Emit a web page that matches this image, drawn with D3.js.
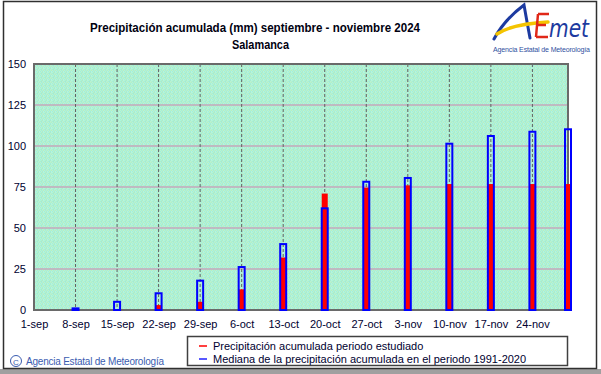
<!DOCTYPE html>
<html>
<head>
<meta charset="utf-8">
<script src="https://cdn.jsdelivr.net/npm/d3@7"></script>
<style>
  body { margin: 0; background: #fff; }
  svg { display: block; font-family: "Liberation Sans", Arial, sans-serif; }
</style>
</head>
<body>
<div id="chart"></div>
<script>
// weekly cut-off dates of the period
const dates = ["2024-09-08", "2024-09-15", "2024-09-22", "2024-09-29", "2024-10-06", "2024-10-13",
    "2024-10-20", "2024-10-27", "2024-11-03", "2024-11-10", "2024-11-17", "2024-11-24", "2024-11-30"];
// accumulated precipitation in the studied period (mm)
const precip = [0, 0, 3, 5, 12.6, 32, 71, 74.6, 76, 76.8, 76.8, 76.8, 76.8];
// median accumulated precipitation 1991-2020 (mm)
const median = [1, 5, 10.2, 17.9, 26.2, 40.2, 62, 78.2, 80.5, 101.4, 106.1, 108.7, 110.2];

const tickDates = ["2024-09-01", "2024-09-08", "2024-09-15", "2024-09-22", "2024-09-29", "2024-10-06",
    "2024-10-13", "2024-10-20", "2024-10-27", "2024-11-03", "2024-11-10", "2024-11-17", "2024-11-24"];
const tickLabels = ["1-sep", "8-sep", "15-sep", "22-sep", "29-sep", "6-oct", "13-oct",
    "20-oct", "27-oct", "3-nov", "10-nov", "17-nov", "24-nov"];
const yTicks = [0, 25, 50, 75, 100, 125, 150];

const legendLabels = ["Precipitación acumulada periodo estudiado",
    "Mediana de la precipitación acumulada en el periodo 1991-2020"];

const W = 601, H = 374;
const margin = { top: 64, right: 33, bottom: 64, left: 34 };
const parse = d3.utcParse("%Y-%m-%d");

const svg = d3.select("#chart").append("svg")
    .attr("width", W)
    .attr("height", H);

// dithered mint background like the original gif
const defs = svg.append("defs");
const pat = defs.append("pattern")
    .attr("id", "dither")
    .attr("width", 4).attr("height", 4)
    .attr("patternUnits", "userSpaceOnUse");
const ditherCols = ["#a8f4e4", "#b8f0c0", "#a0ecd8", "#c0f4d0",
    "#b0f0c8", "#9ceadc", "#c4f0c4", "#a8f0e0",
    "#bcf4cc", "#a4ece0", "#b0f4d0", "#b8ecc4",
    "#a0f0dc", "#c0f0c8", "#a8ecd4", "#b4f4e0"];
ditherCols.forEach(function (c, i) {
    pat.append("rect").attr("x", i % 4).attr("y", Math.floor(i / 4))
        .attr("width", 1).attr("height", 1).attr("fill", c);
});

// outer frame
svg.append("rect").attr("x", 0).attr("y", 369).attr("width", W).attr("height", 5).attr("fill", "#a0a0a0");
svg.append("rect")
    .attr("x", 3.5).attr("y", 1.5)
    .attr("width", 593).attr("height", 367)
    .attr("fill", "#fff")
    .attr("stroke", "#303030")
    .attr("stroke-width", 1.5);

const x = d3.scaleUtc()
    .domain([parse("2024-09-01"), parse("2024-11-30")])
    .range([margin.left, W - margin.right]);
const y = d3.scaleLinear()
    .domain([0, 150])
    .range([H - margin.bottom, margin.top]);

// plot background
svg.append("rect")
    .attr("x", x.range()[0]).attr("y", y(150))
    .attr("width", x.range()[1] - x.range()[0])
    .attr("height", y(0) - y(150))
    .attr("fill", "url(#dither)");

// horizontal grid
svg.append("g")
    .selectAll("line")
    .data(yTicks.filter(d => d > 0 && d < 150))
    .enter().append("line")
    .attr("x1", x.range()[0]).attr("x2", x.range()[1])
    .attr("y1", d => y(d)).attr("y2", d => y(d))
    .attr("stroke", "#c4a8bc")
    .attr("stroke-width", 1.5);

// vertical dashed grid
svg.append("g")
    .selectAll("line")
    .data(tickDates.slice(1).concat(["2024-11-30"]))
    .enter().append("line")
    .attr("x1", d => x(parse(d))).attr("x2", d => x(parse(d)))
    .attr("y1", y(150)).attr("y2", y(0))
    .attr("stroke", "#606060")
    .attr("stroke-width", 1)
    .attr("stroke-dasharray", "3,2");

// plot border
svg.append("path")
    .attr("d", "M" + x.range()[0] + "," + y(0) + "V" + y(150) + "H" + x.range()[1] + "V" + y(0) + "Z")
    .attr("fill", "none")
    .attr("stroke", "#6a6a6a")
    .attr("stroke-width", 2);

// y axis
const yAxis = d3.axisLeft(y).tickValues(yTicks).tickSize(0).tickPadding(8);
svg.append("g")
    .attr("transform", "translate(" + x.range()[0] + ",0)")
    .call(yAxis)
    .call(g => g.select(".domain").remove())
    .selectAll("text")
    .attr("font-size", 11)
    .attr("font-family", "Liberation Sans, Arial, sans-serif")
    .attr("fill", "#000030");

// x axis
const xAxis = d3.axisBottom(x)
    .tickValues(tickDates.map(parse))
    .tickFormat((d, i) => tickLabels[i])
    .tickSize(0).tickPadding(10);
svg.append("g")
    .attr("transform", "translate(0," + y(0) + ")")
    .call(xAxis)
    .call(g => g.select(".domain").remove())
    .selectAll("text")
    .attr("font-size", 11)
    .attr("font-family", "Liberation Sans, Arial, sans-serif")
    .attr("fill", "#000030");

// bars
const data = dates.map(function (d, i) {
    return { date: parse(d), precip: precip[i], median: median[i] };
});

svg.append("g")
    .selectAll("rect")
    .data(data.filter(d => d.precip > 0))
    .enter().append("rect")
    .attr("x", d => x(d.date) - 3)
    .attr("width", 6)
    .attr("y", d => y(d.precip))
    .attr("height", d => y(0) - y(d.precip))
    .attr("fill", "#ff0000");

svg.append("g")
    .selectAll("rect")
    .data(data)
    .enter().append("rect")
    .attr("x", d => x(d.date) - 3)
    .attr("width", 6)
    .attr("y", d => y(d.median))
    .attr("height", d => y(0) - y(d.median))
    .attr("fill", "none")
    .attr("stroke", "#0000ff")
    .attr("stroke-width", 2);

// title
const title = svg.append("g").attr("font-weight", "bold").attr("font-size", 13).attr("fill", "#000010");
title.append("text").attr("x", 90).attr("y", 32)
    .attr("textLength", 330).attr("lengthAdjust", "spacingAndGlyphs")
    .text("Precipitación acumulada (mm) septiembre - noviembre 2024");
title.append("text").attr("x", 232).attr("y", 49)
    .attr("textLength", 57).attr("lengthAdjust", "spacingAndGlyphs")
    .text("Salamanca");

// legend
const lg = svg.append("g");
lg.append("rect")
    .attr("x", 187.5).attr("y", 336.5)
    .attr("width", 380).attr("height", 29)
    .attr("fill", "#fff")
    .attr("stroke", "#404040")
    .attr("stroke-width", 1.5);
["#ff0000", "#2020ff"].forEach(function (c, i) {
    lg.append("line")
        .attr("x1", 199).attr("x2", 207)
        .attr("y1", 346 + i * 13).attr("y2", 346 + i * 13)
        .attr("stroke", c).attr("stroke-width", 1.5);
    lg.append("text")
        .attr("x", 213).attr("y", 350 + i * 13)
        .attr("font-size", 11)
        .attr("fill", "#000030")
        .text(legendLabels[i]);
});

// copyright
const cp = svg.append("g").attr("fill", "#3a5cb0");
cp.append("circle").attr("cx", 16).attr("cy", 361).attr("r", 5.5)
    .attr("fill", "none").attr("stroke", "#3a5cb0").attr("stroke-width", 1);
cp.append("text").attr("x", 16).attr("y", 364.5).attr("text-anchor", "middle")
    .attr("font-size", 8).text("C");
cp.append("text").attr("x", 26).attr("y", 365)
    .attr("font-size", 10).attr("textLength", 138)
    .text("Agencia Estatal de Meteorología");

// AEMET logo
const logo = svg.append("g");
logo.append("path")
    .attr("d", "M494,39 Q504,20 524,5 Q527,22 530,38")
    .attr("fill", "none").attr("stroke", "#1c3aa0").attr("stroke-width", 3)
    .attr("stroke-linecap", "round");
logo.append("path")
    .attr("d", "M497,34 Q512,24 548,22")
    .attr("fill", "none").attr("stroke", "#f4c400").attr("stroke-width", 3.5)
    .attr("stroke-linecap", "round");
logo.append("path")
    .attr("d", "M538,14 L536,37 M538,14 H549 M537,25 H546 M536,37 H548")
    .attr("fill", "none").attr("stroke", "#e02818").attr("stroke-width", 2.5);
logo.append("text")
    .attr("x", 549).attr("y", 37)
    .attr("font-size", 25).attr("font-style", "italic")
    .attr("font-family", "DejaVu Sans, sans-serif")
    .attr("fill", "#1c3aa0")
    .attr("textLength", 40).attr("lengthAdjust", "spacingAndGlyphs")
    .text("met");
logo.append("text")
    .attr("x", 493).attr("y", 52)
    .attr("font-size", 7)
    .attr("fill", "#3050a0")
    .attr("textLength", 97)
    .text("Agencia Estatal de Meteorología");
</script>
</body>
</html>
